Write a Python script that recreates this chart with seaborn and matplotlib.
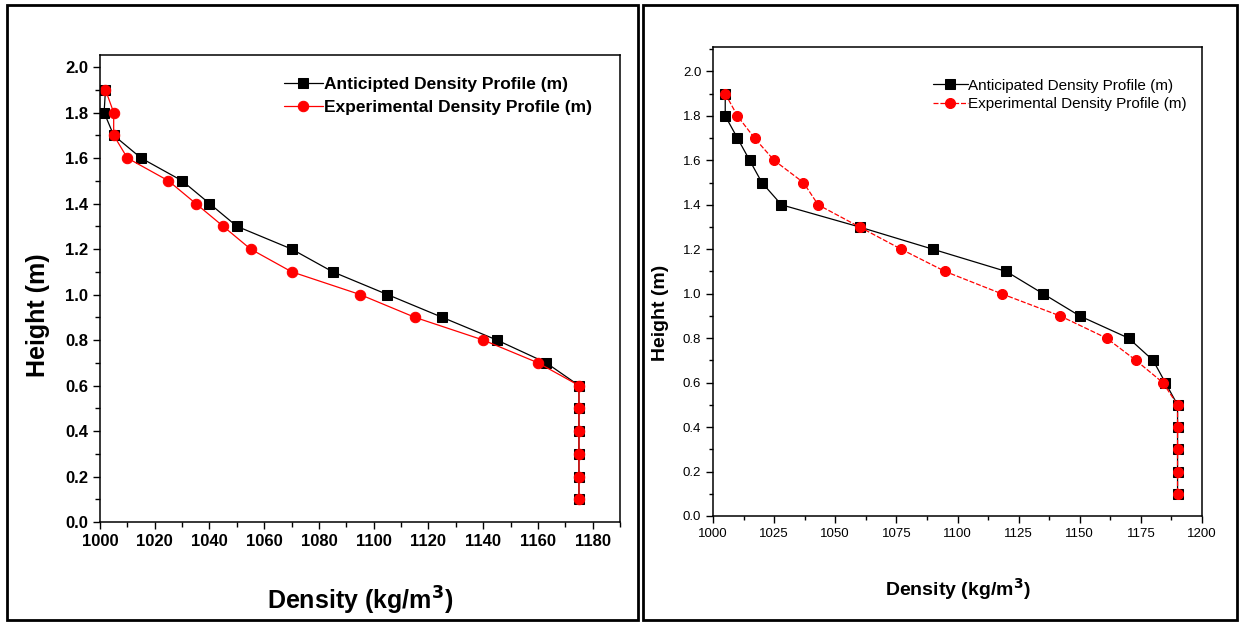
import matplotlib
matplotlib.use("Agg")
import matplotlib.pyplot as plt
import seaborn as sns
import pandas as pd
from matplotlib.patches import Rectangle
from matplotlib.ticker import MultipleLocator, FormatStrFormatter

sns.set_theme(style="white")
plt.rcParams['font.family'] = ['Liberation Sans']
plt.rcParams['text.color'] = 'black'
plt.rcParams['axes.labelcolor'] = 'black'
plt.rcParams['xtick.color'] = 'black'
plt.rcParams['ytick.color'] = 'black'
plt.rcParams['axes.edgecolor'] = 'black'

# ---------------- data ----------------
heights = [1.9, 1.8, 1.7, 1.6, 1.5, 1.4, 1.3, 1.2, 1.1, 1.0, 0.9, 0.8, 0.7, 0.6, 0.5, 0.4, 0.3, 0.2, 0.1]

left_anticipated = [1002, 1001.5, 1005, 1015, 1030, 1040, 1050, 1070, 1085, 1105, 1125, 1145, 1163,
                    1175, 1175, 1175, 1175, 1175, 1175]
left_experimental = [1002, 1005, 1005, 1010, 1025, 1035, 1045, 1055, 1070, 1095, 1115, 1140, 1160,
                     1175, 1175, 1175, 1175, 1175, 1175]

right_anticipated = [1005, 1005, 1010, 1015, 1020, 1028, 1060, 1090, 1120, 1135, 1150, 1170, 1180,
                     1185, 1190, 1190, 1190, 1190, 1190]
right_experimental = [1005, 1010, 1017, 1025, 1037, 1043, 1060, 1077, 1095, 1118, 1142, 1161, 1173,
                      1184, 1190, 1190, 1190, 1190, 1190]

label_left_ant = "Anticipted Density Profile (m)"
label_left_exp = "Experimental Density Profile (m)"
label_right_ant = "Anticipated Density Profile (m)"
label_right_exp = "Experimental Density Profile (m)"

W, H = 1241, 623
fig = plt.figure(figsize=(W / 100, H / 100), dpi=100)

def fx(px):
    return px / W

def fy(py):
    return 1 - py / H

# panel frames
fig.patches.append(Rectangle((fx(7), fy(620)), fx(638 - 7), (620 - 5) / H, transform=fig.transFigure,
                             fill=False, edgecolor="black", linewidth=2))
fig.patches.append(Rectangle((fx(643), fy(620)), fx(1237 - 643), (620 - 5) / H, transform=fig.transFigure,
                             fill=False, edgecolor="black", linewidth=2))

axL = fig.add_axes([fx(100), fy(522), fx(620 - 100), (522 - 55) / H])
axR = fig.add_axes([fx(713), fy(516), fx(1202 - 713), (516 - 47) / H])

dL = pd.DataFrame({"h": heights, "ant": left_anticipated, "exp": left_experimental})
dR = pd.DataFrame({"h": heights, "ant": right_anticipated, "exp": right_experimental})

sns.lineplot(data=dL, x="ant", y="h", sort=False, estimator=None, ax=axL, color="black", marker="s",
             markersize=7, markeredgecolor="black", linewidth=0.9, label=label_left_ant)
sns.lineplot(data=dL, x="exp", y="h", sort=False, estimator=None, ax=axL, color="red", marker="o",
             markersize=7.5, markeredgecolor="red", linewidth=0.9, label=label_left_exp)

sns.lineplot(data=dR, x="ant", y="h", sort=False, estimator=None, ax=axR, color="black", marker="s",
             markersize=6.8, markeredgecolor="black", linewidth=0.9, label=label_right_ant)
sns.lineplot(data=dR, x="exp", y="h", sort=False, estimator=None, ax=axR, color="red", marker="o",
             markersize=7.2, markeredgecolor="red", linewidth=0.9, linestyle=(0, (4, 1.5)),
             label=label_right_exp)

# left axes styling
axL.set_xlim(1000, 1190)
axL.xaxis.set_major_locator(MultipleLocator(20))
axL.xaxis.set_minor_locator(MultipleLocator(10))
axL.yaxis.set_major_locator(MultipleLocator(0.2))
axL.yaxis.set_minor_locator(MultipleLocator(0.1))
axL.yaxis.set_major_formatter(FormatStrFormatter("%.1f"))
axL.set_ylim(0, 2.053)
axL.tick_params(which="both", direction="out", bottom=True, left=True, top=False, right=False,
                color="black", width=1)
axL.tick_params(which="major", length=5, labelsize=12)
axL.tick_params(which="minor", length=3.5)
for lab in axL.get_xticklabels() + axL.get_yticklabels():
    lab.set_fontweight("bold")
axL.set_xlabel("Density (kg/m$^\\mathbf{3}$)", fontsize=18, fontweight="bold", labelpad=26)
axL.set_ylabel("Height (m)", fontsize=18, fontweight="bold")
axL.yaxis.set_label_coords(-0.096, 0.443)
for s in axL.spines.values():
    s.set_color("black")
    s.set_linewidth(1.1)
legL = axL.legend(loc="upper right", frameon=False, fontsize=12.5, handlelength=2.2,
                  handletextpad=0.1, borderaxespad=0.3, labelspacing=0.45, bbox_to_anchor=(0.97, 0.98))
for t in legL.get_texts():
    t.set_fontweight("bold")

# right axes styling
axR.set_xlim(1000, 1200)
axR.xaxis.set_major_locator(MultipleLocator(25))
axR.xaxis.set_minor_locator(MultipleLocator(12.5))
axR.yaxis.set_major_locator(MultipleLocator(0.2))
axR.yaxis.set_minor_locator(MultipleLocator(0.1))
axR.yaxis.set_major_formatter(FormatStrFormatter("%.1f"))
axR.set_ylim(0, 2.11)
axR.tick_params(which="both", direction="out", bottom=True, left=True, top=False, right=False,
                color="black", width=1)
axR.tick_params(which="major", length=5, labelsize=9.5)
axR.tick_params(which="minor", length=3)
axR.set_xlabel("Density (kg/m$^\\mathbf{3}$)", fontsize=14, fontweight="bold", labelpad=26)
axR.set_ylabel("Height (m)", fontsize=14, fontweight="bold")
axR.yaxis.set_label_coords(-0.09, 0.433)
for s in axR.spines.values():
    s.set_color("black")
    s.set_linewidth(1.1)
legR = axR.legend(loc="upper right", frameon=False, fontsize=11, handlelength=2.3,
                  handletextpad=0.0, borderaxespad=0.3, labelspacing=0.3, bbox_to_anchor=(0.99, 0.955))

fig.savefig("out.png", dpi=100)
